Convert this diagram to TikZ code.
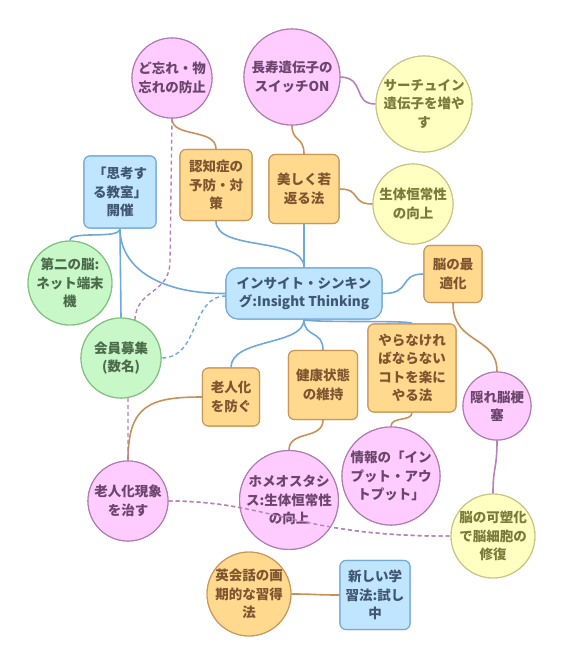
\documentclass[tikz,border=0pt]{standalone}
\usepackage{fontspec}
\setmainfont{Noto Sans CJK JP}
\definecolor{pinkf}{HTML}{FFCCFF}
\definecolor{pinkd}{HTML}{B07CB0}
\definecolor{pinkt}{HTML}{6B456B}
\definecolor{yelf}{HTML}{FFFFC2}
\definecolor{yeld}{HTML}{C8C488}
\definecolor{yelt}{HTML}{7A7A3A}
\definecolor{oraf}{HTML}{FFD98E}
\definecolor{orad}{HTML}{C9975A}
\definecolor{orat}{HTML}{7D5530}
\definecolor{bluf}{HTML}{C0E6FF}
\definecolor{blud}{HTML}{74A9D8}
\definecolor{blut}{HTML}{415670}
\definecolor{grnf}{HTML}{C8F7C8}
\definecolor{grnd}{HTML}{80C080}
\definecolor{grnt}{HTML}{4B6B4B}
\definecolor{lblue}{HTML}{6FA8DC}
\definecolor{lbrown}{HTML}{C8915A}
\definecolor{lpurp}{HTML}{B583B5}
\tikzset{
  base/.style={inner sep=0pt, align=center, line width=1.1pt,
    font=\bfseries\fontsize{13.5}{18.5}\selectfont},
  pinkc/.style={base, circle, draw=pinkd, fill=pinkf, text=pinkt},
  yelc/.style={base, circle, draw=yeld, fill=yelf, text=yelt},
  grnc/.style={base, circle, draw=grnd, fill=grnf, text=grnt},
  orac/.style={base, circle, draw=orad, fill=oraf, text=orat},
  orar/.style={base, rectangle, rounded corners=6pt, draw=orad, fill=oraf, text=orat},
  blur/.style={base, rectangle, rounded corners=6pt, draw=blud, fill=bluf, text=blut},
  bl/.style={draw=lblue, line width=1.6pt},
  br/.style={draw=lbrown, line width=1.6pt},
  pu/.style={draw=lpurp, line width=1.6pt},
  pud/.style={draw=lpurp, line width=1.4pt, dash pattern=on 4pt off 3pt},
  bld/.style={draw=lblue, line width=1.4pt, dash pattern=on 4pt off 3pt},
}
\begin{document}
\begin{tikzpicture}[x=1pt,y=-1pt]
\useasboundingbox (0,0) rectangle (564,665);
% connectors (under nodes)
\coordinate (cn) at (304,268);
\coordinate (cs) at (304,319);
\coordinate (cw) at (226,294);
\coordinate (cw2) at (226,296);
\coordinate (ce) at (382,294);
\coordinate (dmid) at (170,262);

% nodes
\node[blur, minimum width=156pt, minimum height=51pt, rounded corners=12pt] (cen) at (304,293.5) {インサイト・シンキン\\グ:Insight Thinking};

\node[pinkc, minimum size=80pt] (dow) at (172,78) {ど忘れ・物\\忘れの防止};
\node[pinkc, minimum size=96pt] (cho) at (292,77) {長寿遺伝子の\\スイッチON};
\node[yelc, minimum size=96pt] (sir) at (424,104) {サーチュイン\\遺伝子を増や\\す};
\node[yelc, minimum size=80pt] (sei) at (413,204) {生体恒常性\\の向上};
\node[orar, minimum width=72pt, minimum height=71pt] (nin) at (216,185) {認知症の\\予防・対\\策};
\node[orar, minimum width=70pt, minimum height=69pt] (utu) at (304,189) {美しく若\\返る法};
\node[blur, minimum width=72pt, minimum height=72pt] (shi) at (120,192) {「思考す\\る教室」\\開催};
\node[grnc, minimum size=81pt] (dai) at (70,283) {第二の脳:\\ネット端末\\機};
\node[grnc, minimum size=80pt] (kai) at (121,358) {会員募集\\(数名)};
\node[orar, minimum width=58pt, minimum height=57pt] (sai) at (453,274) {脳の最\\適化};
\node[orar, minimum width=57pt, minimum height=58pt] (fus) at (231,397) {老人化\\を防ぐ};
\node[orar, minimum width=69pt, minimum height=69pt] (ken) at (323,385) {健康状態\\の維持};
\node[orar, minimum width=88pt, minimum height=88pt] (yar) at (412,368) {やらなけれ\\ばならない\\コトを楽に\\やる法};
\node[pinkc, minimum size=68pt] (kak) at (497,406) {隠れ脳梗\\塞};
\node[pinkc, minimum size=98pt] (jou) at (391,476) {情報の「イン\\プット・アウ\\トプット」};
\node[pinkc, minimum size=97pt] (hom) at (289,500) {ホメオスタシ\\ス:生体恒常性\\の向上};
\node[pinkc, minimum size=80pt] (roj) at (128,501) {老人化現象\\を治す};
\node[yelc, minimum size=82pt] (kas) at (493,536) {脳の可塑化\\で脳細胞の\\修復};
\node[orac, minimum size=82pt] (eik) at (249,594) {英会話の画\\期的な習得\\法};
\node[blur, minimum width=70pt, minimum height=69pt] (ata) at (375,595) {新しい学\\習法:試し\\中};

\begin{scope}[on background layer/.style={}]
\end{scope}
% blue connectors
\draw[bl] (cen.north) .. controls (304,236) and (216,252) .. (nin.south);
\draw[bl] (cen.north) -- (utu.south);
\draw[bl] (cen.west) .. controls (160,294) and (120,268) .. (shi.south);
\draw[bl] (shi.south) .. controls (120,240) and (70,230) .. (dai.north);
\draw[bl] (shi.south) -- (kai.north);
\draw[bld] (cw2) .. controls (190,296) and (200,358) .. (kai.east);
\draw[bl] (cen.east) .. controls (412,294) and (398,274) .. (sai.west);
\draw[bl] (cen.south) .. controls (304,346) and (231,338) .. (fus.north);
\draw[bl] (cen.south) .. controls (304,338) and (323,330) .. (ken.north);
\draw[bl] (cen.south) .. controls (310,323) and (412,320) .. (yar.north);
% brown connectors
\draw[br] (nin.north) .. controls (216,128) and (172,138) .. (dow.south);
\draw[br] (utu.north) .. controls (304,136) and (292,142) .. (cho.south);
\draw[br] (utu.east) .. controls (362,189) and (350,204) .. (sei.west);
\draw[br] (sai.south) .. controls (453,345) and (497,335) .. (kak.north);
\draw[br] (fus.west) .. controls (150,397) and (128,405) .. (roj.north);
\draw[br] (ken.south) .. controls (323,440) and (289,430) .. (hom.north);
\draw[br] (yar.south) .. controls (412,422) and (391,416) .. (jou.north);
\draw[br] (eik.east) .. controls (316,594) and (314,595) .. (ata.west);
% purple connectors
\draw[pu] (cho.east) .. controls (366,78) and (352,104) .. (sir.west);
\draw[pu] (kak.south) .. controls (497,470) and (493,466) .. (kas.north);
% dashed purple
\draw[pud] (dow.south) -- (dmid) .. controls (169,295) and (137,288) .. (kai.70);
\draw[pud] (kai.-80) -- (roj.north);
\draw[pud] (roj.east) .. controls (270,501) and (300,537) .. (kas.west);

% redraw nodes over solid connectors
\node[blur, minimum width=156pt, minimum height=51pt, rounded corners=12pt] at (304,293.5) {インサイト・シンキン\\グ:Insight Thinking};
\node[pinkc, minimum size=80pt] at (172,78) {ど忘れ・物\\忘れの防止};
\node[pinkc, minimum size=96pt] at (292,77) {長寿遺伝子の\\スイッチON};
\node[yelc, minimum size=96pt] at (424,104) {サーチュイン\\遺伝子を増や\\す};
\node[yelc, minimum size=80pt] at (413,204) {生体恒常性\\の向上};
\node[orar, minimum width=72pt, minimum height=71pt] at (216,185) {認知症の\\予防・対\\策};
\node[orar, minimum width=70pt, minimum height=69pt] at (304,189) {美しく若\\返る法};
\node[blur, minimum width=72pt, minimum height=72pt] at (120,192) {「思考す\\る教室」\\開催};
\node[grnc, minimum size=81pt] at (70,283) {第二の脳:\\ネット端末\\機};
\node[grnc, minimum size=80pt] at (121,358) {会員募集\\(数名)};
\node[orar, minimum width=58pt, minimum height=57pt] at (453,274) {脳の最\\適化};
\node[orar, minimum width=57pt, minimum height=58pt] at (231,397) {老人化\\を防ぐ};
\node[orar, minimum width=69pt, minimum height=69pt] at (323,385) {健康状態\\の維持};
\node[orar, minimum width=88pt, minimum height=88pt] at (412,368) {やらなけれ\\ばならない\\コトを楽に\\やる法};
\node[pinkc, minimum size=68pt] at (497,406) {隠れ脳梗\\塞};
\node[pinkc, minimum size=98pt] at (391,476) {情報の「イン\\プット・アウ\\トプット」};
\node[pinkc, minimum size=97pt] at (289,500) {ホメオスタシ\\ス:生体恒常性\\の向上};
\node[pinkc, minimum size=80pt] at (128,501) {老人化現象\\を治す};
\node[yelc, minimum size=82pt] at (493,536) {脳の可塑化\\で脳細胞の\\修復};
\node[orac, minimum size=82pt] at (249,594) {英会話の画\\期的な習得\\法};
\node[blur, minimum width=70pt, minimum height=69pt] at (375,595) {新しい学\\習法:試し\\中};
% dashed line drawn over homeostasis node
\draw[pud] (roj.east) .. controls (270,501) and (300,537) .. (kas.west);
\end{tikzpicture}
\end{document}
